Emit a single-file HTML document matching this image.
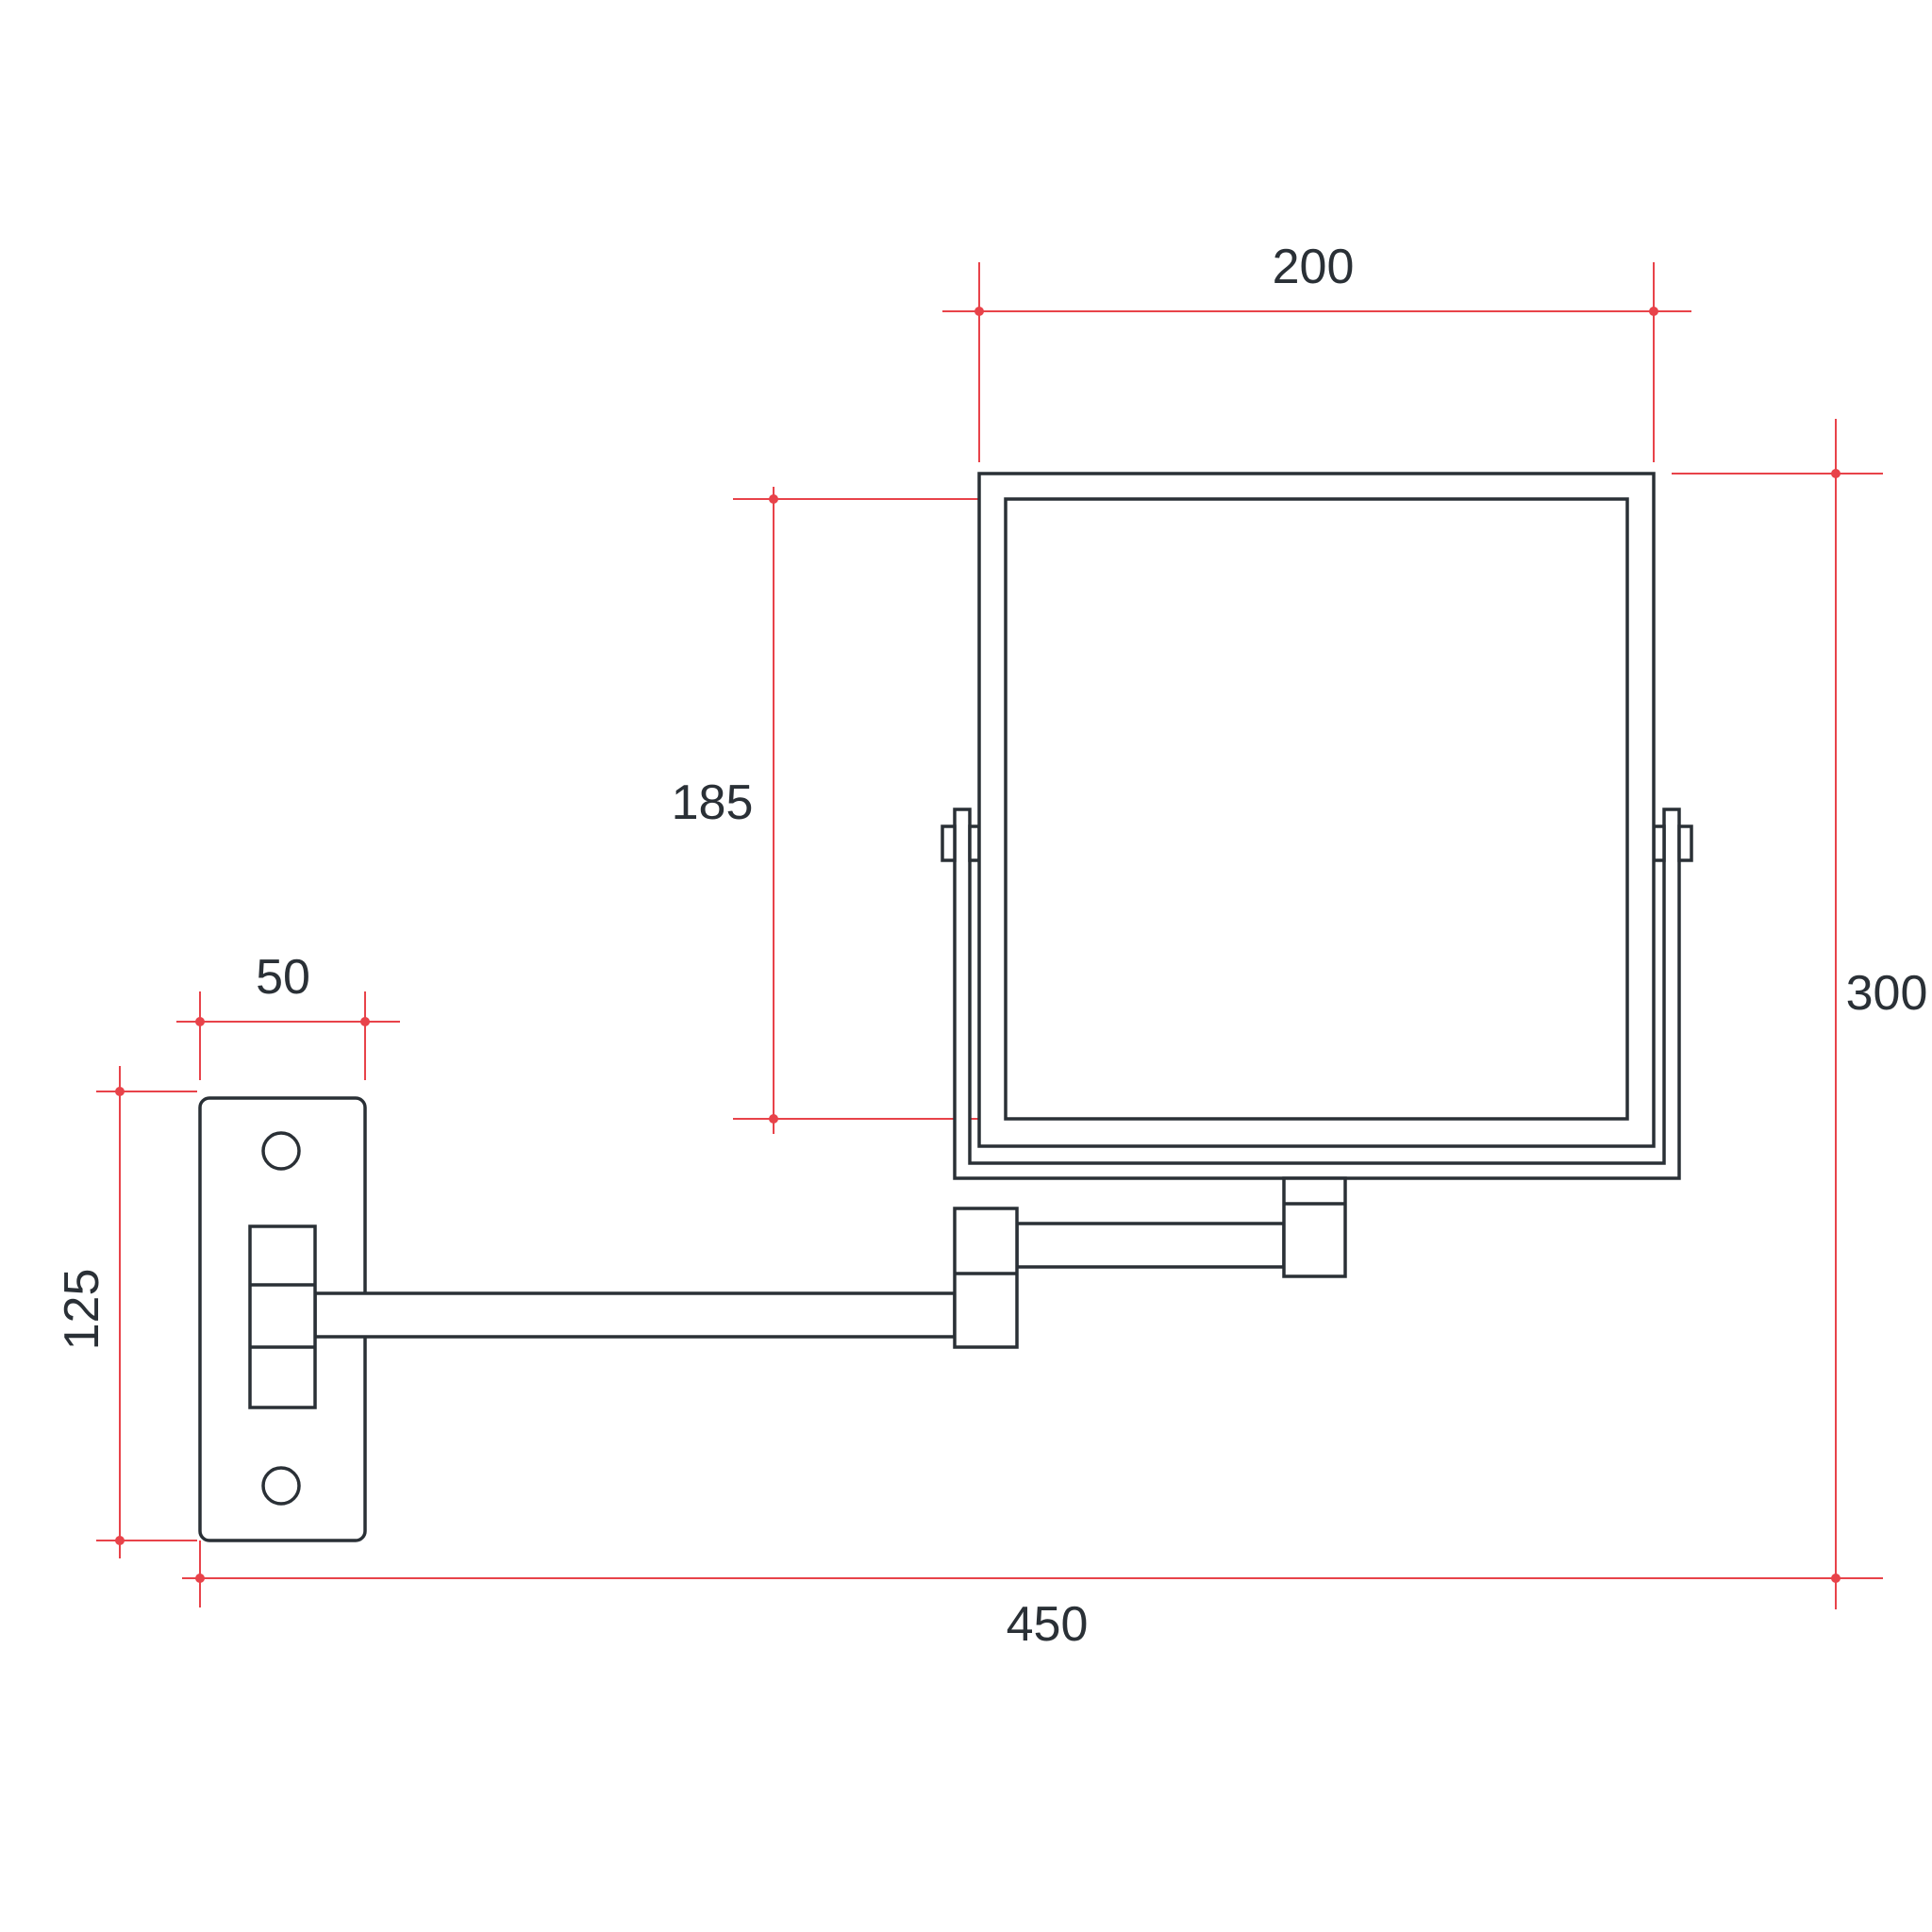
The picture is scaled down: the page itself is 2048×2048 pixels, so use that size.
<!DOCTYPE html>
<html><head><meta charset="utf-8"><style>html,body{margin:0;padding:0;background:#fff}svg{display:block}</style></head><body>
<svg width="2048" height="2048" viewBox="0 0 2048 2048" xmlns="http://www.w3.org/2000/svg">
<rect width="2048" height="2048" fill="#fff"/>
<g stroke="#e8434a" stroke-width="2" fill="none">
  <!-- 200 -->
  <line x1="999" y1="330" x2="1793" y2="330"/>
  <line x1="1038" y1="278" x2="1038" y2="490"/>
  <line x1="1753" y1="278" x2="1753" y2="490"/>
  <!-- 185 -->
  <line x1="820" y1="516" x2="820" y2="1202"/>
  <line x1="777" y1="529" x2="1066" y2="529"/>
  <line x1="777" y1="1186" x2="1066" y2="1186"/>
  <!-- 300 -->
  <line x1="1946" y1="444" x2="1946" y2="1706"/>
  <line x1="1772" y1="502" x2="1996" y2="502"/>
  <!-- 450 -->
  <line x1="193" y1="1673" x2="1996" y2="1673"/>
  <line x1="212" y1="1633" x2="212" y2="1704"/>
  <!-- 50 -->
  <line x1="187" y1="1083" x2="424" y2="1083"/>
  <line x1="212" y1="1051" x2="212" y2="1145"/>
  <line x1="387" y1="1051" x2="387" y2="1145"/>
  <!-- 125 -->
  <line x1="127" y1="1130" x2="127" y2="1652"/>
  <line x1="102" y1="1157" x2="209" y2="1157"/>
  <line x1="102" y1="1633" x2="209" y2="1633"/>
</g>
<g fill="#e8434a">
  <circle cx="1038" cy="330" r="5"/><circle cx="1753" cy="330" r="5"/>
  <circle cx="820" cy="529" r="5"/><circle cx="820" cy="1186" r="5"/>
  <circle cx="1946" cy="502" r="5"/><circle cx="1946" cy="1673" r="5"/>
  <circle cx="212" cy="1673" r="5"/>
  <circle cx="212" cy="1083" r="5"/><circle cx="387" cy="1083" r="5"/>
  <circle cx="127" cy="1157" r="5"/><circle cx="127" cy="1633" r="5"/>
</g>
<g stroke="#2a3036" stroke-width="3.5" fill="#fff">
  <!-- stand U -->
  <path d="M1012 1249 V858 H1028 V1233 H1764 V858 H1780 V1249 Z"/>
  <rect x="999" y="876" width="13" height="36"/>
  <rect x="1028" y="876" width="10" height="36"/>
  <rect x="1780" y="876" width="13" height="36"/>
  <rect x="1753" y="876" width="11" height="36"/>
  <!-- mirror -->
  <rect x="1038" y="502" width="715" height="713"/>
  <rect x="1066" y="529" width="659" height="657"/>
  <!-- neck -->
  <rect x="1078" y="1297" width="283" height="46"/>
  <rect x="1361" y="1249" width="65" height="104"/>
  <line x1="1361" y1="1276" x2="1426" y2="1276"/>
  <!-- wall plate -->
  <rect x="212" y="1164" width="175" height="469" rx="10"/>
  <circle cx="298" cy="1220" r="19" />
  <circle cx="298" cy="1575" r="19" />
  <!-- lower arm -->
  <rect x="334" y="1371" width="678" height="46"/>
  <rect x="265" y="1300" width="69" height="192"/>
  <line x1="265" y1="1362" x2="334" y2="1362"/>
  <line x1="265" y1="1428" x2="334" y2="1428"/>
  <!-- elbow -->
  <rect x="1012" y="1281" width="66" height="147"/>
  <line x1="1012" y1="1350" x2="1078" y2="1350"/>
</g>
<g font-family="'Liberation Sans', sans-serif" font-size="52" fill="#2a3036" text-anchor="middle">
  <text x="1392" y="300">200</text>
  <text x="755" y="868">185</text>
  <text x="2000" y="1070">300</text>
  <text x="1110" y="1739">450</text>
  <text x="300" y="1053">50</text>
  <text transform="translate(104,1388) rotate(-90)">125</text>
</g>
</svg>
</body></html>
